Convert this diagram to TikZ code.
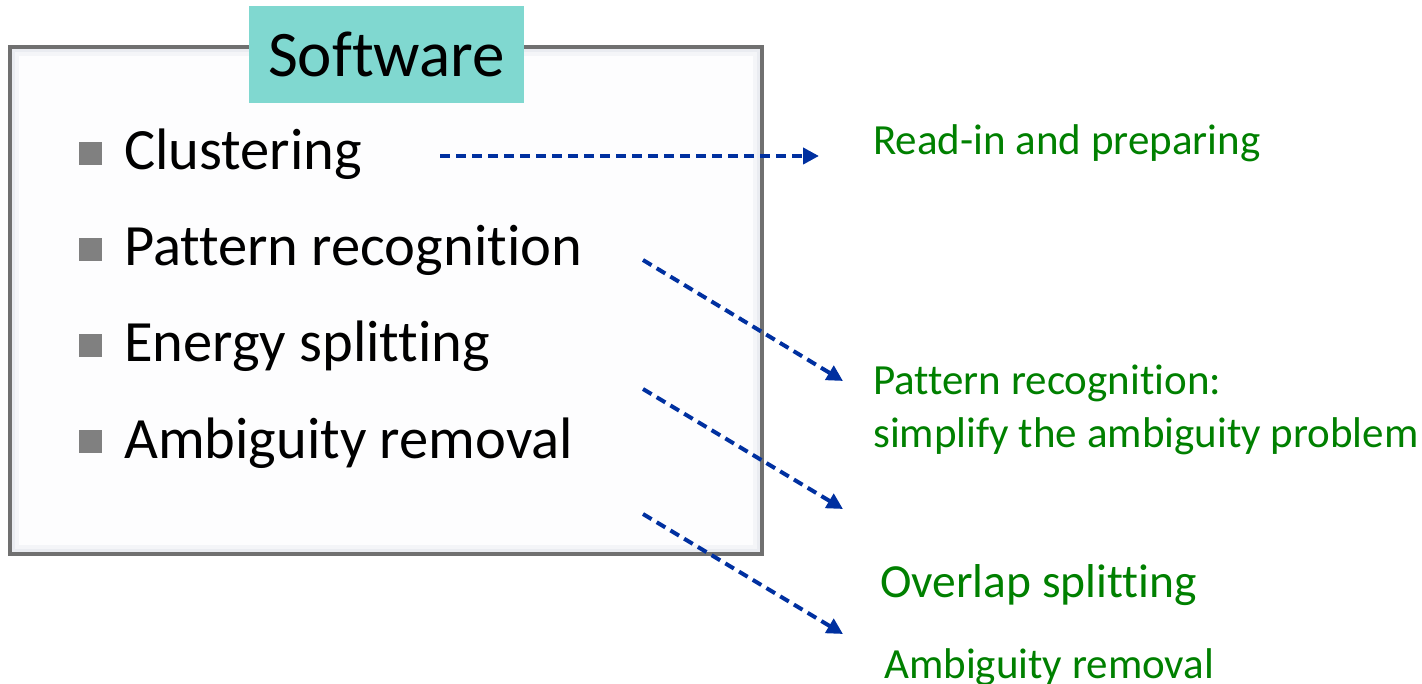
\documentclass[tikz,border=0pt]{standalone}
\usepackage{fontspec}
\setmainfont{Carlito}[Ligatures=NoCommon]
\usetikzlibrary{arrows.meta}
\definecolor{tealbg}{RGB}{128,216,208}
\definecolor{boxline}{RGB}{112,112,112}
\definecolor{bulletgray}{RGB}{128,128,128}
\definecolor{arrowblue}{RGB}{0,48,160}
\definecolor{greentext}{RGB}{0,128,0}
\definecolor{boxfill}{RGB}{253,253,254}
\definecolor{bevel}{RGB}{234,236,241}
\definecolor{bevelmid}{RGB}{244,245,248}
\tikzset{
  mainbox/.style={fill=bevel, minimum width=752pt, minimum height=507pt, inner sep=0pt},
  titlebox/.style={fill=tealbg, minimum width=275pt, minimum height=97pt, inner sep=0pt, font=\fontsize{65}{78}\selectfont},
  itemtext/.style={anchor=base west, inner sep=0pt, font=\fontsize{58.5}{70}\selectfont},
  bulletsq/.style={fill=bulletgray, minimum width=23pt, minimum height=23pt, inner sep=0pt},
  greenlabel/.style={anchor=base west, inner sep=0pt, text=greentext, font=\fontsize{43}{52}\selectfont},
  flowarrow/.style={draw=arrowblue, line width=4pt, dash pattern=on 10pt off 6pt, -{Triangle[length=16pt,width=16pt]}}
}
\begin{document}
\begin{tikzpicture}[x=1pt,y=-1pt]
\useasboundingbox (0,0) rectangle (1422,684);
% main box with bevel
\node[mainbox] (box) at (386,300.5) {};
\fill[bevelmid] (15,52) rectangle (757,549);
\fill[boxfill] (19,56) rectangle (753,545);
\draw[boxline, line width=3.5pt] (box.north west) rectangle (box.south east);
% title
\node[titlebox] (title) at (386.5,54.5) {Software};
% list
\node[bulletsq] (b1) at (90.5,153.5) {};
\node[itemtext] (t1) at (124,170) {Clustering};
\node[bulletsq] (b2) at (90.5,250) {};
\node[itemtext] (t2) at (124,266) {Pattern recognition};
\node[bulletsq] (b3) at (90.5,346) {};
\node[itemtext] (t3) at (124,362) {Energy splitting};
\node[bulletsq] (b4) at (90.5,442) {};
\node[itemtext] (t4) at (124,458) {Ambiguity removal};
% green labels
\node[greenlabel] (g1) at (873,155) {Read-in and preparing};
\node[greenlabel] (g2a) at (873,395) {Pattern recognition:};
\node[greenlabel] (g2b) at (873,447) {simplify the ambiguity problem};
\node[greenlabel, font=\fontsize{47.5}{56}\selectfont] (g3) at (880,597) {Overlap splitting};
\node[greenlabel] (g4) at (884,678) {Ambiguity removal};
% arrows
\coordinate (s1) at (440,156);
\coordinate (e1) at (819,156);
\coordinate (s2) at (643,260);
\coordinate (e2) at (843,381);
\coordinate (s3) at (643,389);
\coordinate (e3) at (843,509);
\coordinate (s4) at (643,514);
\coordinate (e4) at (843,634);
\draw[flowarrow] (s1) -- (e1);
\draw[flowarrow] (s2) -- (e2);
\draw[flowarrow] (s3) -- (e3);
\draw[flowarrow] (s4) -- (e4);
\end{tikzpicture}
\end{document}
